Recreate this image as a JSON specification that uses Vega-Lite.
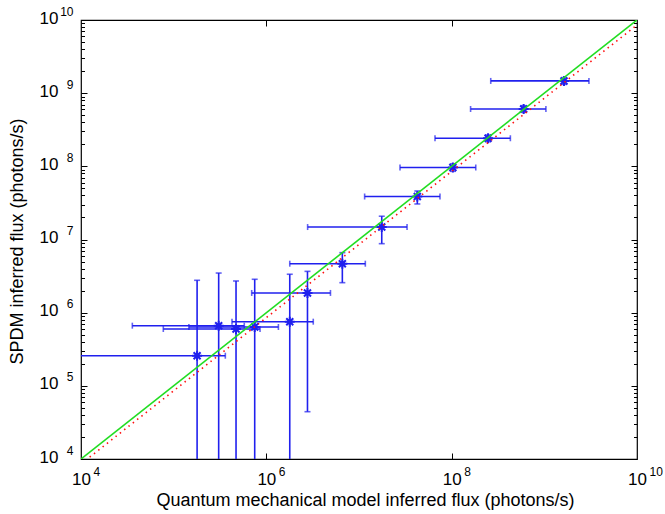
{
  "$schema": "https://vega.github.io/schema/vega-lite/v6.json",
  "width": 556,
  "height": 439,
  "autosize": {"type": "none"},
  "padding": {"left": 81, "top": 20, "right": 28, "bottom": 55},
  "background": "white",
  "config": {
    "view": {"stroke": "black", "strokeWidth": 1.2},
    "axis": {"grid": false, "domain": false, "labelFont": "Liberation Sans", "titleFont": "Liberation Sans", "labelColor": "black", "titleColor": "black", "tickColor": "black", "titleFontWeight": "normal", "labelFlush": false, "labelOverlap": false}
  },
  "datasets": {
    "pts": [
      {"x": 1.79e5, "y": 2.58e5, "xlo": 5e3, "xhi": 3.61e5, "ylo": 1e3, "yhi": 2.77e6},
      {"x": 3.06e5, "y": 6.64e5, "xlo": 3.58e4, "xhi": 5.78e5, "ylo": 1e3, "yhi": 3.48e6},
      {"x": 4.71e5, "y": 5.98e5, "xlo": 7.73e4, "xhi": 8.55e5, "ylo": 1e3, "yhi": 2.71e6},
      {"x": 7.49e5, "y": 6.37e5, "xlo": 1.46e5, "xhi": 1.35e6, "ylo": 1e3, "yhi": 2.86e6},
      {"x": 1.79e6, "y": 7.53e5, "xlo": 4.26e5, "xhi": 3.21e6, "ylo": 1e3, "yhi": 3.35e6},
      {"x": 2.78e6, "y": 1.86e6, "xlo": 6.95e5, "xhi": 4.92e6, "ylo": 4.43e4, "yhi": 3.67e6},
      {"x": 6.61e6, "y": 4.67e6, "xlo": 1.79e6, "xhi": 1.17e7, "ylo": 2.57e6, "yhi": 6.61e6},
      {"x": 1.76e7, "y": 1.48e7, "xlo": 2.79e6, "xhi": 3.30e7, "ylo": 8.77e6, "yhi": 2.08e7},
      {"x": 4.26e7, "y": 3.87e7, "xlo": 1.15e7, "xhi": 7.48e7, "ylo": 3.06e7, "yhi": 4.60e7},
      {"x": 1.03e8, "y": 9.64e7, "xlo": 2.77e7, "xhi": 1.82e8, "ylo": 8.55e7, "yhi": 1.08e8},
      {"x": 2.47e8, "y": 2.42e8, "xlo": 6.61e7, "xhi": 4.30e8, "ylo": 2.17e8, "yhi": 2.68e8},
      {"x": 5.98e8, "y": 6.08e8, "xlo": 1.60e8, "xhi": 1.04e9, "ylo": 5.48e8, "yhi": 6.74e8},
      {"x": 1.63e9, "y": 1.47e9, "xlo": 2.64e8, "xhi": 3.03e9, "ylo": 1.32e9, "yhi": 1.63e9}
    ],
    "diag": [{"x": 1e4, "y": 1e4}, {"x": 1e10, "y": 1e10}],
    "fit": [{"x": 1e4, "y": 8.55e3}, {"x": 1e10, "y": 8.55e9}]
  },
  "layer": [
    {
      "data": {"name": "pts"},
      "mark": {"type": "rule", "color": "#2020ee", "strokeWidth": 1.6, "clip": true},
      "encoding": {
        "x": {"field": "xlo", "type": "quantitative", "scale": {"type": "log", "domain": [1e4, 1e10], "nice": false}, "axis": null},
        "x2": {"field": "xhi"},
        "y": {"field": "y", "type": "quantitative", "scale": {"type": "log", "domain": [1e4, 1e10], "nice": false}, "axis": null}
      }
    },
    {
      "data": {"name": "pts"},
      "mark": {"type": "tick", "orient": "vertical", "color": "#2020ee", "size": 6, "thickness": 1.6, "clip": true},
      "encoding": {
        "x": {"field": "xlo", "type": "quantitative", "axis": null},
        "y": {"field": "y", "type": "quantitative", "axis": null}
      }
    },
    {
      "data": {"name": "pts"},
      "mark": {"type": "tick", "orient": "vertical", "color": "#2020ee", "size": 6, "thickness": 1.6, "clip": true},
      "encoding": {
        "x": {"field": "xhi", "type": "quantitative", "axis": null},
        "y": {"field": "y", "type": "quantitative", "axis": null}
      }
    },
    {
      "data": {"name": "pts"},
      "mark": {"type": "rule", "color": "#2020ee", "strokeWidth": 1.6, "clip": true},
      "encoding": {
        "x": {"field": "x", "type": "quantitative", "axis": null},
        "y": {"field": "ylo", "type": "quantitative", "axis": null},
        "y2": {"field": "yhi"}
      }
    },
    {
      "data": {"name": "pts"},
      "mark": {"type": "tick", "orient": "horizontal", "color": "#2020ee", "size": 6, "thickness": 1.6, "clip": true},
      "encoding": {
        "x": {"field": "x", "type": "quantitative", "axis": null},
        "y": {"field": "ylo", "type": "quantitative", "axis": null}
      }
    },
    {
      "data": {"name": "pts"},
      "mark": {"type": "tick", "orient": "horizontal", "color": "#2020ee", "size": 6, "thickness": 1.6, "clip": true},
      "encoding": {
        "x": {"field": "x", "type": "quantitative", "axis": null},
        "y": {"field": "yhi", "type": "quantitative", "axis": null}
      }
    },
    {
      "data": {"name": "pts"},
      "mark": {"type": "point", "shape": "M-1,0L1,0M0,-1L0,1M-0.7,-0.7L0.7,0.7M-0.7,0.7L0.7,-0.7", "size": 100, "filled": false, "stroke": "#2020ee", "strokeWidth": 2, "opacity": 1},
      "encoding": {
        "x": {"field": "x", "type": "quantitative", "axis": null},
        "y": {"field": "y", "type": "quantitative", "axis": null}
      }
    },
    {
      "data": {"name": "fit"},
      "mark": {"type": "line", "color": "#ff1010", "strokeWidth": 1.6, "strokeDash": [1.5, 4], "clip": true},
      "encoding": {
        "x": {"field": "x", "type": "quantitative", "axis": null},
        "y": {"field": "y", "type": "quantitative", "axis": null}
      }
    },
    {
      "data": {"name": "diag"},
      "mark": {"type": "line", "color": "#22dd22", "strokeWidth": 1.6, "clip": true},
      "encoding": {
        "x": {"field": "x", "type": "quantitative", "axis": {"orient": "bottom", "values": [1e4, 1e6, 1e8, 1e10], "labelExpr": "'10'", "ticks": false, "labelFontSize": 17, "labelPadding": 12, "title": "Quantum mechanical model inferred flux (photons/s)", "titleFontSize": 18, "titleX": 284, "titleY": 41, "titleBaseline": "middle", "titleAlign": "center", "titleAnchor": "middle"}},
        "y": {"field": "y", "type": "quantitative", "axis": {"orient": "left", "values": [1e4, 1e5, 1e6, 1e7, 1e8, 1e9, 1e10], "labelExpr": "'10'", "ticks": false, "labelFontSize": 17, "labelPadding": 23, "labelOffset": -2, "title": "SPDM inferred flux (photons/s)", "titleFontSize": 18, "titleX": -64, "titleY": 221, "titleAngle": -90, "titleBaseline": "middle", "titleAlign": "center", "titleAnchor": "middle"}}
      }
    },
    {
      "data": {"name": "diag"},
      "mark": {"type": "line", "opacity": 0},
      "encoding": {
        "x": {"field": "x", "type": "quantitative", "axis": {"orient": "bottom", "values": [1e6, 1e8], "labels": false, "tickSize": -6, "tickWidth": 1, "title": null}},
        "y": {"field": "y", "type": "quantitative", "axis": {"orient": "left", "values": [1e5, 1e6, 1e7, 1e8, 1e9], "labels": false, "tickSize": -6, "tickWidth": 1, "title": null}}
      }
    },
    {
      "data": {"name": "diag"},
      "mark": {"type": "line", "opacity": 0},
      "encoding": {
        "x": {"field": "x", "type": "quantitative", "axis": {"orient": "top", "values": [1e6, 1e8], "labels": false, "tickSize": -6, "tickWidth": 1, "title": null}},
        "y": {"field": "y", "type": "quantitative", "axis": {"orient": "left", "values": [2e4, 3e4, 4e4, 5e4, 6e4, 7e4, 8e4, 9e4, 2e5, 3e5, 4e5, 5e5, 6e5, 7e5, 8e5, 9e5, 2e6, 3e6, 4e6, 5e6, 6e6, 7e6, 8e6, 9e6, 2e7, 3e7, 4e7, 5e7, 6e7, 7e7, 8e7, 9e7, 2e8, 3e8, 4e8, 5e8, 6e8, 7e8, 8e8, 9e8, 2e9, 3e9, 4e9, 5e9, 6e9, 7e9, 8e9, 9e9], "labels": false, "tickSize": -3.5, "tickWidth": 1, "title": null}}
      }
    },
    {
      "data": {"name": "diag"},
      "mark": {"type": "line", "opacity": 0},
      "encoding": {
        "x": {"field": "x", "type": "quantitative", "axis": {"orient": "bottom", "values": [1e4, 1e6, 1e8, 1e10], "labelExpr": "'' + round(log(datum.value)/LN10)", "ticks": false, "labelFontSize": 12, "labelAlign": "left", "labelOffset": 12, "labelPadding": 7, "title": null}},
        "y": {"field": "y", "type": "quantitative", "axis": {"orient": "right", "values": [1e5, 1e6, 1e7, 1e8, 1e9], "labels": false, "tickSize": -6, "tickWidth": 1, "title": null}}
      }
    },
    {
      "data": {"name": "diag"},
      "mark": {"type": "line", "opacity": 0},
      "encoding": {
        "x": {"field": "x", "type": "quantitative", "axis": null},
        "y": {"field": "y", "type": "quantitative", "axis": {"orient": "right", "values": [2e4, 3e4, 4e4, 5e4, 6e4, 7e4, 8e4, 9e4, 2e5, 3e5, 4e5, 5e5, 6e5, 7e5, 8e5, 9e5, 2e6, 3e6, 4e6, 5e6, 6e6, 7e6, 8e6, 9e6, 2e7, 3e7, 4e7, 5e7, 6e7, 7e7, 8e7, 9e7, 2e8, 3e8, 4e8, 5e8, 6e8, 7e8, 8e8, 9e8, 2e9, 3e9, 4e9, 5e9, 6e9, 7e9, 8e9, 9e9], "labels": false, "tickSize": -3.5, "tickWidth": 1, "title": null}}
      }
    },
    {
      "data": {"name": "diag"},
      "mark": {"type": "line", "opacity": 0},
      "encoding": {
        "x": {"field": "x", "type": "quantitative", "axis": null},
        "y": {"field": "y", "type": "quantitative", "axis": {"orient": "left", "values": [1e4, 1e5, 1e6, 1e7, 1e8, 1e9, 1e10], "labelExpr": "'' + round(log(datum.value)/LN10)", "ticks": false, "labelFontSize": 12, "labelPadding": 8, "labelOffset": -9, "title": null}}
      }
    }
  ],
  "resolve": {"axis": {"x": "independent", "y": "independent"}}
}
